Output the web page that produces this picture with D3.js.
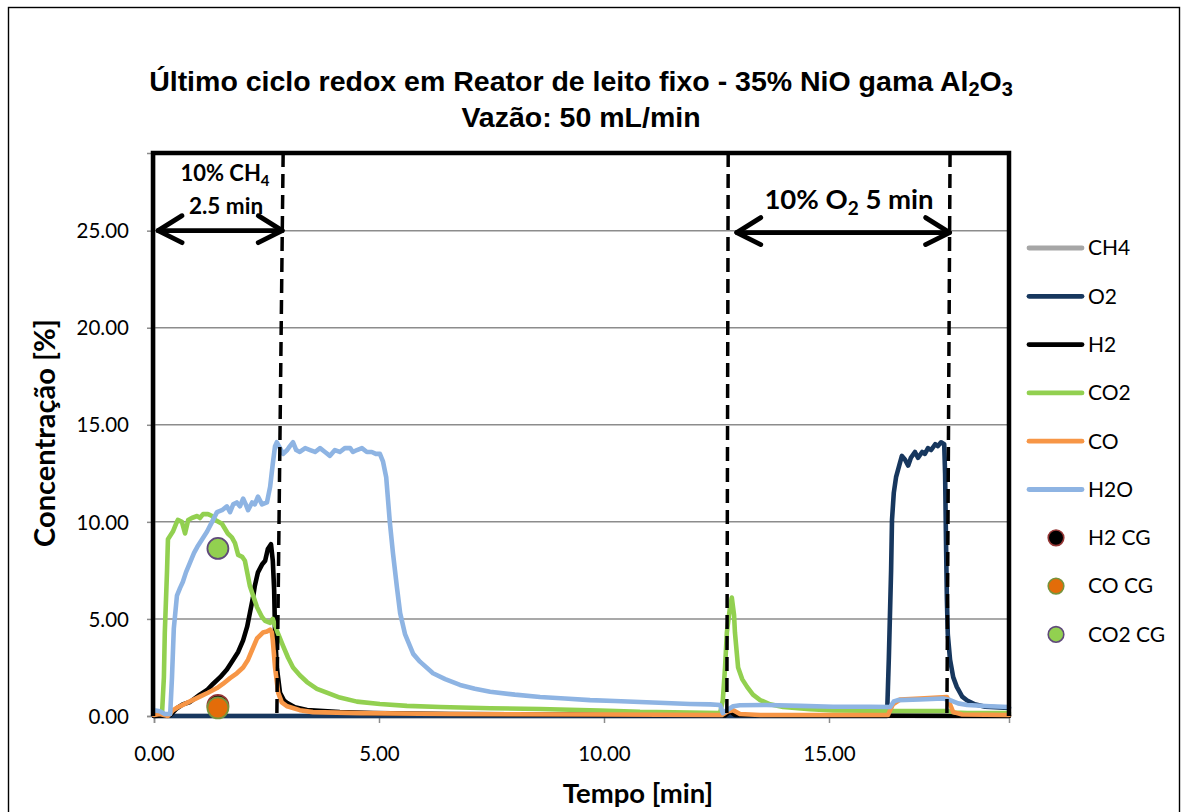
<!DOCTYPE html>
<html>
<head>
<meta charset="utf-8">
<script src="https://cdn.jsdelivr.net/npm/d3@7"></script>
<style>
  html, body { margin: 0; padding: 0; background: #fff; }
  svg { display: block; }
</style>
</head>
<body>
<svg id="chart" width="1181" height="812"></svg>
<script>
// Gas concentrations [%] over time [min] during the last redox cycle
const seriesNames = ["CH4", "O2", "H2", "CO2", "CO", "H2O"];
const seriesColors = ["#A6A6A6", "#17375E", "#000000", "#92D050", "#F79646", "#8EB4E3"];

const ch4 = [[0, 0], [19, 0]];

const o2 = [[0, 0], [16.29, 0], [16.33, 3.0], [16.38, 7.5], [16.40, 10.1], [16.44, 11.5], [16.49, 12.3],
  [16.56, 12.9], [16.62, 13.4], [16.69, 13.2], [16.76, 12.9], [16.82, 13.3], [16.91, 13.6], [16.98, 13.3],
  [17.07, 13.6], [17.13, 13.5], [17.20, 13.8], [17.27, 13.7], [17.36, 14.0], [17.42, 13.9], [17.49, 14.1],
  [17.56, 14.0], [17.58, 12.5], [17.60, 9.0], [17.62, 6.0], [17.64, 4.2], [17.69, 2.9], [17.76, 2.0],
  [17.84, 1.5], [17.96, 1.0], [18.07, 0.8], [18.24, 0.6], [18.47, 0.48], [19.00, 0.42]];

const h2 = [[0, 0], [0.36, 0.05], [0.51, 0.4], [0.64, 0.6], [0.80, 0.72], [1.02, 1.1], [1.18, 1.34],
  [1.31, 1.65], [1.47, 2.0], [1.62, 2.4], [1.76, 2.9], [1.87, 3.3], [1.98, 3.9], [2.07, 4.6], [2.13, 5.3],
  [2.20, 6.1], [2.24, 6.7], [2.31, 7.4], [2.40, 7.8], [2.47, 8.0], [2.53, 8.6], [2.60, 8.85], [2.64, 8.0],
  [2.67, 6.5], [2.69, 4.3], [2.73, 2.5], [2.80, 1.2], [2.89, 0.8], [2.96, 0.67], [3.13, 0.45], [3.40, 0.31],
  [4.13, 0.2], [4.87, 0.15], [6.58, 0.1], [9.91, 0.06], [12.58, 0.04], [12.69, 0.03], [12.80, 0.25],
  [12.91, 0.05], [14.36, 0.03], [19.00, 0.0]];

const co2 = [[0, 0.15], [0.13, 0.15], [0.18, 0.2], [0.22, 2.0], [0.24, 4.3], [0.29, 7.5], [0.31, 9.1],
  [0.42, 9.5], [0.49, 9.9], [0.53, 10.1], [0.62, 10.0], [0.69, 9.4], [0.76, 10.1], [0.84, 10.2], [0.96, 10.3],
  [1.02, 10.2], [1.09, 10.4], [1.20, 10.4], [1.29, 10.3], [1.36, 10.1], [1.51, 9.9], [1.64, 9.4], [1.73, 9.2],
  [1.80, 8.9], [1.87, 8.3], [1.96, 8.2], [2.02, 8.0], [2.13, 6.7], [2.29, 5.6], [2.40, 5.1], [2.47, 4.9],
  [2.58, 4.8], [2.64, 5.0], [2.73, 4.4], [2.87, 3.6], [2.98, 3.0], [3.09, 2.5], [3.24, 2.1], [3.40, 1.75],
  [3.62, 1.4], [3.84, 1.2], [4.13, 0.95], [4.51, 0.74], [5.02, 0.62], [5.62, 0.52], [6.36, 0.46], [7.47, 0.4],
  [8.58, 0.36], [9.91, 0.28], [10.80, 0.21], [11.91, 0.18], [12.58, 0.15], [12.64, 0.8], [12.69, 2.5],
  [12.73, 4.3], [12.80, 5.6], [12.84, 6.1], [12.89, 5.2], [12.91, 4.3], [12.98, 2.5], [13.07, 1.9],
  [13.18, 1.5], [13.31, 1.1], [13.47, 0.82], [13.69, 0.6], [13.98, 0.46], [14.58, 0.35], [15.09, 0.28],
  [16.42, 0.26], [17.64, 0.26], [17.80, 0.18], [18.07, 0.15], [19.00, 0.15]];

const co = [[0, 0.05], [0.13, 0.1], [0.31, 0.0], [0.42, 0.3], [0.53, 0.45], [0.64, 0.57], [0.80, 0.75],
  [1.02, 1.0], [1.20, 1.2], [1.40, 1.44], [1.53, 1.65], [1.69, 1.95], [1.84, 2.2], [1.98, 2.5], [2.09, 2.9],
  [2.18, 3.4], [2.29, 4.0], [2.42, 4.3], [2.51, 4.35], [2.58, 4.45], [2.62, 4.3], [2.64, 3.9], [2.69, 2.5],
  [2.76, 1.2], [2.84, 0.7], [2.96, 0.5], [3.24, 0.3], [3.53, 0.2], [4.58, 0.15], [6.58, 0.1], [9.91, 0.08],
  [12.62, 0.05], [12.76, 0.25], [12.87, 0.3], [13.02, 0.1], [13.47, 0.05], [16.31, 0.05], [16.42, 0.6],
  [16.58, 0.85], [17.02, 0.9], [17.62, 0.98], [17.69, 0.6], [17.76, 0.2], [17.96, 0.08], [19.00, 0.05]];

const h2o = [[0, 0.3], [0.13, 0.25], [0.24, 0.1], [0.36, 0.1], [0.40, 2.0], [0.44, 4.5], [0.51, 6.2],
  [0.58, 6.6], [0.64, 6.9], [0.71, 7.4], [0.80, 7.9], [0.89, 8.4], [0.96, 8.7], [1.07, 9.1], [1.18, 9.5],
  [1.29, 10.0], [1.40, 10.5], [1.51, 10.6], [1.62, 10.8], [1.69, 10.5], [1.76, 10.9], [1.84, 11.0],
  [1.91, 10.8], [1.98, 11.2], [2.04, 10.9], [2.09, 10.6], [2.18, 11.0], [2.24, 10.9], [2.31, 11.3],
  [2.40, 10.9], [2.51, 11.0], [2.58, 11.8], [2.64, 13.0], [2.69, 13.9], [2.73, 14.1], [2.80, 13.8],
  [2.87, 13.5], [2.96, 13.7], [3.02, 13.9], [3.09, 14.1], [3.16, 13.7], [3.24, 13.6], [3.36, 13.8],
  [3.47, 13.7], [3.58, 13.6], [3.69, 13.8], [3.80, 13.6], [3.91, 13.4], [4.02, 13.7], [4.13, 13.6],
  [4.24, 13.8], [4.36, 13.8], [4.42, 13.6], [4.51, 13.7], [4.62, 13.8], [4.73, 13.6], [4.84, 13.6],
  [4.93, 13.5], [5.02, 13.5], [5.09, 13.1], [5.16, 12.3], [5.24, 10.0], [5.31, 8.4], [5.40, 6.6],
  [5.47, 5.3], [5.58, 4.2], [5.76, 3.2], [5.91, 2.8], [6.20, 2.2], [6.47, 1.9], [6.80, 1.6], [7.13, 1.4],
  [7.47, 1.25], [8.02, 1.1], [8.58, 0.98], [9.13, 0.9], [9.69, 0.82], [10.24, 0.77], [10.80, 0.72],
  [11.36, 0.67], [11.91, 0.62], [12.36, 0.6], [12.58, 0.57], [12.64, 0.15], [12.73, 0.3], [12.87, 0.5],
  [13.02, 0.55], [13.62, 0.57], [14.36, 0.52], [15.09, 0.48], [15.91, 0.48], [16.36, 0.46], [16.44, 0.75],
  [16.53, 0.82], [17.02, 0.85], [17.53, 0.9], [17.69, 0.82], [17.87, 0.65], [18.07, 0.57], [18.58, 0.5],
  [19.00, 0.46]];

const seriesData = [ch4, o2, h2, co2, co, h2o];

// GC point measurements
const gcNames = ["H2 CG", "CO CG", "CO2 CG"];
const gcFill = ["#000000", "#E36C09", "#92D050"];
const gcStroke = ["#953735", "#77933C", "#604A7B"];
const gcTime = [1.42, 1.42, 1.42];
const gcValue = [0.55, 0.42, 8.63];

// Feed switching instants, [x at top, x at bottom] in minutes
const feedLines = [[2.87, 2.73], [12.76, 12.73], [17.69, 17.62]];
const xTicks = [0, 5, 10, 15];
const yTicks = [0, 5, 10, 15, 20, 25];

const svg = d3.select("#chart");
const W = 1181, H = 812;
const plot = { left: 154, right: 1009, top: 153, bottom: 716 };

const x = d3.scaleLinear().domain([0, 19]).range([plot.left, plot.right]);
const y = d3.scaleLinear().domain([0, 29]).range([plot.bottom, plot.top]);

svg.append("rect").attr("width", W).attr("height", H).attr("fill", "#fff");
// chart border
svg.append("rect").attr("x", 8.5).attr("y", 7.5).attr("width", 1171).attr("height", 830)
  .attr("fill", "none").attr("stroke", "#000").attr("stroke-width", 1.4);

// title
const title = svg.append("text").attr("text-anchor", "middle")
  .attr("font-family", "'Liberation Sans', Arial, sans-serif").attr("font-weight", "bold")
  .attr("font-size", 28.5).attr("fill", "#000");
const t1 = title.append("tspan").attr("x", 581).attr("y", 91)
  .text("Último ciclo redox em Reator de leito fixo - 35% NiO gama Al");
t1.append("tspan").attr("font-size", 20).attr("dy", 5).text("2");
t1.append("tspan").attr("dy", -5).text("O");
t1.append("tspan").attr("font-size", 20).attr("dy", 5).text("3");
title.append("tspan").attr("x", 581).attr("y", 127).text("Vazão: 50 mL/min");

// gridlines
svg.append("g").selectAll("line").data(yTicks.filter(d => d > 0)).join("line")
  .attr("x1", plot.left).attr("x2", plot.right)
  .attr("y1", d => y(d)).attr("y2", d => y(d))
  .attr("stroke", "#8C8C8C").attr("stroke-width", 1.5);

// axes
const fontTick = "Lato, 'Open Sans', sans-serif";
const yAxis = svg.append("g").attr("transform", `translate(${plot.left},0)`)
  .call(d3.axisLeft(y).tickValues(yTicks).tickFormat(d3.format(".2f")).tickSize(7).tickPadding(18));
const xAxis = svg.append("g").attr("transform", `translate(0,${plot.bottom})`)
  .call(d3.axisBottom(x).tickValues(xTicks).tickFormat(d3.format(".2f")).tickSize(7).tickPadding(23));
[yAxis, xAxis].forEach(g => {
  g.select(".domain").attr("stroke", "#8C8C8C").attr("stroke-width", 1.5);
  g.selectAll(".tick line").attr("stroke", "#8C8C8C").attr("stroke-width", 1.5);
  g.selectAll(".tick text").attr("font-family", fontTick).attr("font-size", 20.5).attr("fill", "#000");
});
yAxis.selectAll(".tick text").attr("dy", "0.35em");

// axis titles
svg.append("text").attr("transform", "translate(55,433) rotate(-90)").attr("text-anchor", "middle")
  .attr("font-family", fontTick).attr("font-weight", "bold").attr("font-size", 29).text("Concentração [%]");
svg.append("text").attr("x", 638).attr("y", 803).attr("text-anchor", "middle")
  .attr("font-family", fontTick).attr("font-weight", "bold").attr("font-size", 27.5).text("Tempo [min]");

// series lines
const line = d3.line().x(d => x(d[0])).y(d => y(d[1]));
svg.append("g").selectAll("path").data(seriesData).join("path")
  .attr("d", line).attr("fill", "none")
  .attr("stroke", (d, i) => seriesColors[i]).attr("stroke-width", 4.6)
  .attr("stroke-linejoin", "round").attr("stroke-linecap", "round");

// GC markers
svg.append("g").selectAll("circle").data(gcValue).join("circle")
  .attr("cx", (d, i) => x(gcTime[i])).attr("cy", d => y(d)).attr("r", 10.5)
  .attr("fill", (d, i) => gcFill[i]).attr("stroke", (d, i) => gcStroke[i]).attr("stroke-width", 1.8);

// frame
svg.append("path")
  .attr("d", `M${x(0) - 1},${y(0)} V${y(29)} H${x(19)} V${y(0)}`)
  .attr("fill", "none").attr("stroke", "#000").attr("stroke-width", 4.5);

// feed switching lines
svg.append("g").selectAll("line").data(feedLines).join("line")
  .attr("x1", d => x(d[0])).attr("y1", y(29)).attr("x2", d => x(d[1])).attr("y2", y(0))
  .attr("stroke", "#000").attr("stroke-width", 3.5).attr("stroke-dasharray", "14,7");

// double-headed arrows
function arrow(t0, t1, v) {
  const g = svg.append("g").attr("stroke", "#000").attr("stroke-width", 4.8)
    .attr("stroke-linecap", "round").attr("stroke-linejoin", "round").attr("fill", "none");
  const a = x(t0), b = x(t1), yy = y(v);
  g.append("line").attr("x1", a).attr("x2", b).attr("y1", yy).attr("y2", yy);
  g.append("path").attr("d", `M${a + 24},${yy - 15} L${a},${yy} L${a + 24},${yy + 12}`);
  g.append("path").attr("d", `M${b - 24},${yy - 15} L${b},${yy} L${b - 24},${yy + 12}`);
}
arrow(0.09, 2.85, 25);
arrow(12.95, 17.68, 24.9);

const fontAnn = "Lato, 'Open Sans', sans-serif";
const ch4Lbl = svg.append("text").attr("x", 225).attr("y", 181).attr("text-anchor", "middle")
  .attr("font-family", fontAnn).attr("font-weight", "bold").attr("font-size", 22);
ch4Lbl.append("tspan").text("10% CH");
ch4Lbl.append("tspan").attr("font-size", 15).attr("dy", 5).text("4");
svg.append("text").attr("x", 226).attr("y", 214).attr("text-anchor", "middle")
  .attr("font-family", fontAnn).attr("font-weight", "bold").attr("font-size", 22.5).text("2.5 min");
const o2Lbl = svg.append("text").attr("x", 849).attr("y", 209).attr("text-anchor", "middle")
  .attr("font-family", fontAnn).attr("font-weight", "bold").attr("font-size", 27.5);
o2Lbl.append("tspan").text("10% O");
o2Lbl.append("tspan").attr("font-size", 19).attr("dy", 6).text("2");
o2Lbl.append("tspan").attr("dy", -6).text(" 5 min");

// legend
const legY0 = 248, legStep = 48.3;
const leg = svg.append("g").attr("font-family", fontTick).attr("font-size", 21);
seriesNames.forEach((n, i) => {
  const yy = legY0 + i * legStep;
  leg.append("line").attr("x1", 1029).attr("x2", 1082).attr("y1", yy).attr("y2", yy)
    .attr("stroke", seriesColors[i]).attr("stroke-width", 4.8).attr("stroke-linecap", "round");
  leg.append("text").attr("x", 1088).attr("y", yy).attr("dy", "0.35em").text(n);
});
gcNames.forEach((n, i) => {
  const yy = legY0 + (i + 6) * legStep;
  leg.append("circle").attr("cx", 1056).attr("cy", yy).attr("r", 7.8)
    .attr("fill", gcFill[i]).attr("stroke", gcStroke[i]).attr("stroke-width", 1.6);
  leg.append("text").attr("x", 1088).attr("y", yy).attr("dy", "0.35em").text(n);
});
</script>
</body>
</html>
